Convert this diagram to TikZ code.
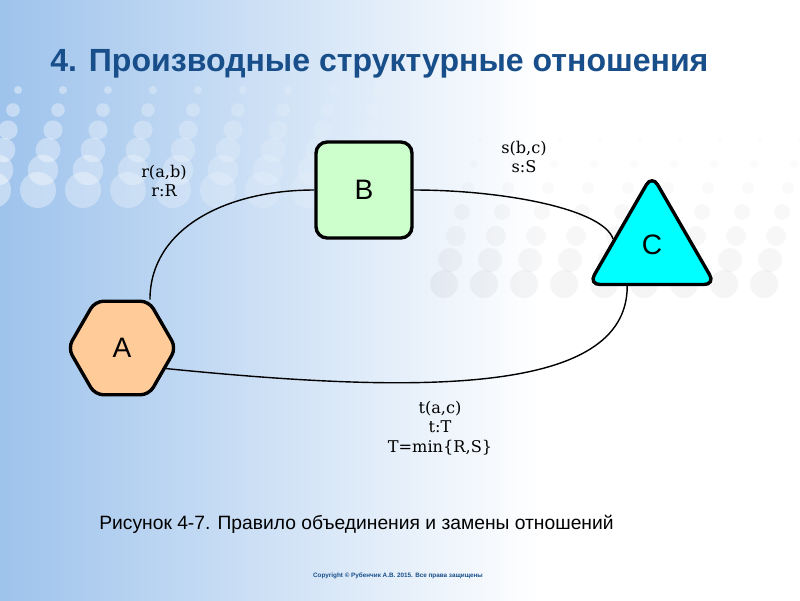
\documentclass[tikz,border=0pt]{standalone}
\usepackage{fontspec}
\setmainfont{Liberation Sans}
\newfontfamily\labelfont{DejaVu Serif}
\usetikzlibrary{shapes.geometric}
\definecolor{slideblue}{RGB}{158,195,236}
\definecolor{titleblue}{RGB}{24,78,138}
\definecolor{hexfill}{RGB}{255,204,153}
\definecolor{boxfill}{RGB}{204,255,204}
\definecolor{trifill}{RGB}{0,255,255}
\tikzset{
  shapebox/.style={draw=black,line width=2.4pt,font=\fontsize{20}{24}\selectfont,inner sep=0pt},
  link/.style={line width=1pt},
  rellabel/.style={font=\labelfont\fontsize{11.5}{14}\selectfont,align=center}
}
\begin{document}
\begin{tikzpicture}[x=0.025cm,y=-0.025cm]
   \useasboundingbox (0,0) rectangle (800,600);
   %fondo
   \fill[white] (0,0) rectangle (800,600);
   \shade[left color=slideblue,right color=white] (0,0) rectangle (540,600);
   \foreach \i in {0,...,8} \foreach \j in {0,...,5}
      \fill[white,opacity={0.4-0.04*\i}] (18+45*\i-5*\j,90+20*\j) circle ({4+2.8*\j});
   \foreach \i in {0,...,8} \foreach \j in {0,...,6}
      \fill[gray,opacity={0.02+0.01*\j}] (480+40*\i-6*\j,140+24*\j) circle ({2+2*\j});
   %titolo
   \node[anchor=west,text=titleblue,font=\bfseries\fontsize{22.8}{26}\selectfont,inner sep=0pt] (title) at (50,64) {4. Производные структурные отношения};
   %nodi
   \node[shapebox,regular polygon,regular polygon sides=6,minimum size=2.7cm,fill=hexfill,rounded corners=6pt] (A) at (122,348) {A};
   \node[shapebox,rectangle,minimum size=2.4cm,fill=boxfill,rounded corners=8pt] (B) at (364,190) {B};
   \node[shapebox,regular polygon,regular polygon sides=3,minimum size=3.65cm,fill=trifill,rounded corners=8pt] (C) at (652,248) {};
   \node[font=\fontsize{20}{24}\selectfont] (Clabel) at (652,245) {C};
   %relazioni
   \draw[link] (A.60) .. controls +(0,-70) and +(-90,0) .. (B.west);
   \draw[link] (B.east) .. controls +(90,0) and +(-10,-30) .. (C.167);
   \draw[link] (C.237) .. controls +(0,110) and +(250,25) .. (A.-25);
   \node[rellabel] (lblab) at (164,181) {r(a,b)\\r:R};
   \node[rellabel] (lblbc) at (524,157) {s(b,c)\\s:S};
   \node[rellabel] (lblac) at (440,428) {t(a,c)\\t:T\\T=min\{R,S\}};
   %didascalia
   \node[anchor=west,font=\fontsize{13.7}{16}\selectfont,inner sep=0pt] (caption) at (99,524) {Рисунок 4-7. Правило объединения и замены отношений};
   \node[text=titleblue,font=\bfseries\fontsize{4.5}{5}\selectfont] (copyright) at (398,576) {Copyright © Рубенчик А.В. 2015. Все права защищены};
\end{tikzpicture}
\end{document}
